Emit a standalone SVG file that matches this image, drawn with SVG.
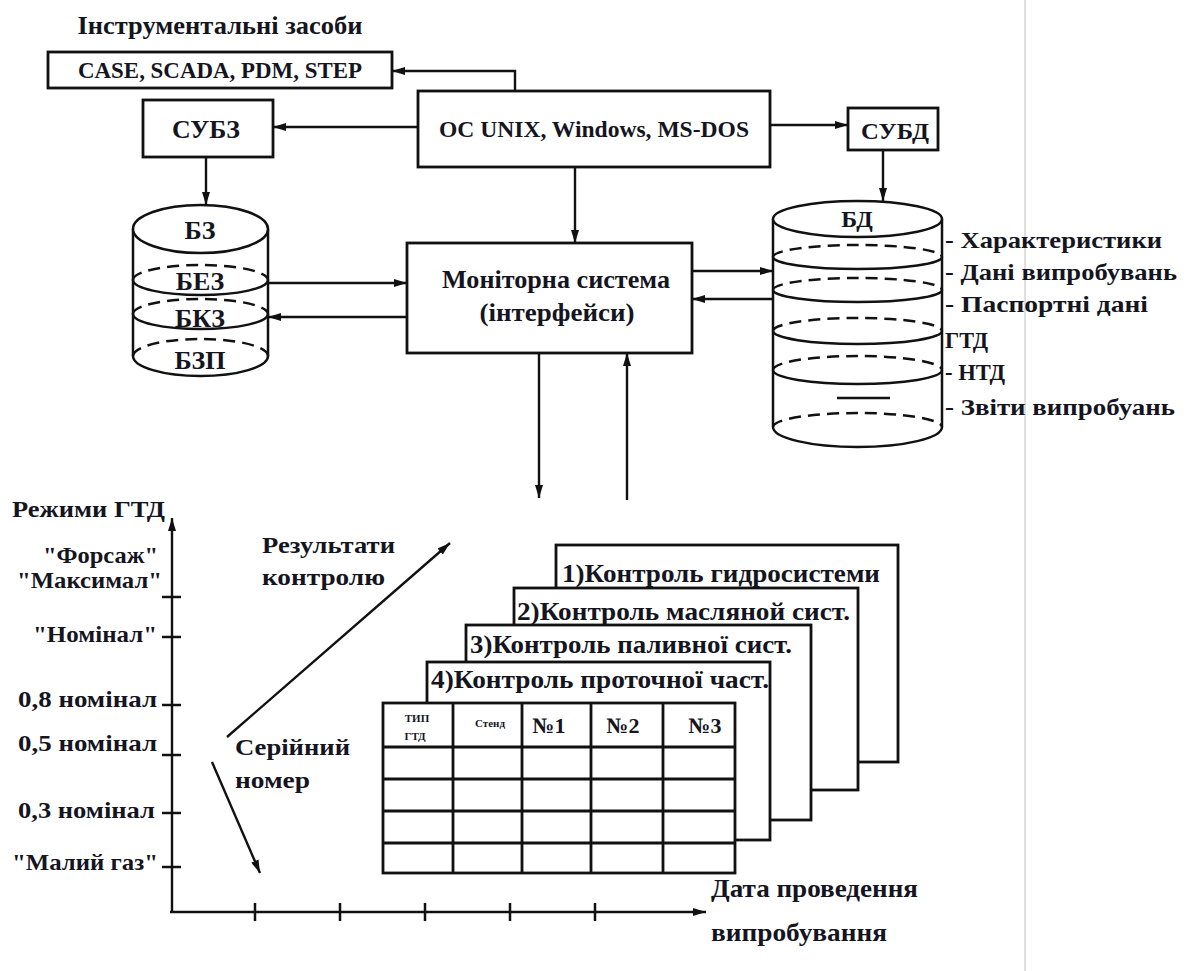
<svg xmlns="http://www.w3.org/2000/svg" width="1187" height="971" viewBox="0 0 1187 971">
<defs>
<marker id="ah" viewBox="0 0 13 8" refX="13" refY="4" markerWidth="13" markerHeight="8" markerUnits="userSpaceOnUse" orient="auto"><path d="M0,0 L13,4 L0,8 z" fill="#111"/></marker>
</defs>
<style>
.t{font-family:"Liberation Serif","Times New Roman","DejaVu Serif",serif;font-weight:bold;fill:#15151f}
.box{fill:#fff;stroke:#111;stroke-width:2.8}
.ln{fill:none;stroke:#111;stroke-width:2.5}
.cyl{fill:#fff;stroke:#111;stroke-width:2.5}
.dash{fill:none;stroke:#111;stroke-width:2.5;stroke-dasharray:12 7}
.arr{fill:none;stroke:#111;stroke-width:2.4;marker-end:url(#ah)}
.grid{fill:none;stroke:#111;stroke-width:2.8}
</style>
<rect width="1187" height="971" fill="#fff"/>
<line x1="1025" y1="0" x2="1025" y2="971" stroke="#d4d4d4" stroke-width="1.5"/>

<text class="t" x="220" y="34" font-size="26" text-anchor="middle" textLength="285" lengthAdjust="spacingAndGlyphs">Інструментальні засоби</text>

<g id="case">
<rect class="box" x="48" y="52" width="344" height="36"/>
<text class="t" x="220" y="78" font-size="23" text-anchor="middle" textLength="284" lengthAdjust="spacingAndGlyphs">CASE, SCADA, PDM, STEP</text>
</g>
<g id="os">
<rect class="box" x="418" y="91" width="352" height="76"/>
<text class="t" x="594" y="137" font-size="24" text-anchor="middle" textLength="310" lengthAdjust="spacingAndGlyphs">OC UNIX, Windows, MS-DOS</text>
</g>
<g id="subz">
<rect class="box" x="143" y="100" width="130" height="57"/>
<text class="t" x="206" y="138" font-size="26" text-anchor="middle" textLength="68" lengthAdjust="spacingAndGlyphs">СУБЗ</text>
</g>
<g id="subd">
<rect class="box" x="848" y="108" width="90" height="42"/>
<text class="t" x="895" y="139" font-size="24" text-anchor="middle" textLength="68" lengthAdjust="spacingAndGlyphs">СУБД</text>
</g>

<g id="kb">
<path class="cyl" d="M133,229 L133,356 A67.5,20 0 0 0 268,356 L268,229"/>
<ellipse class="cyl" cx="200.5" cy="229" rx="67.5" ry="24"/>
<path class="dash" d="M133,280 A67.5,15 0 0 1 268,280"/>
<path class="ln" d="M133,280 A67.5,15 0 0 0 268,280"/>
<path class="dash" d="M133,314 A67.5,15 0 0 1 268,314"/>
<path class="ln" d="M133,314 A67.5,15 0 0 0 268,314"/>
<path class="dash" d="M133,356 A67.5,17 0 0 1 268,356"/>
<text class="t" x="200" y="239" font-size="26" text-anchor="middle">БЗ</text>
<text class="t" x="200" y="290" font-size="26" text-anchor="middle">БЕЗ</text>
<text class="t" x="200" y="327" font-size="26" text-anchor="middle">БКЗ</text>
<text class="t" x="200" y="369" font-size="26" text-anchor="middle">БЗП</text>
</g>

<g id="monitor">
<rect class="box" x="407" y="243" width="285" height="110"/>
<text class="t" x="556" y="288" font-size="26" text-anchor="middle" textLength="228" lengthAdjust="spacingAndGlyphs">Моніторна система</text>
<text class="t" x="557" y="321" font-size="26" text-anchor="middle" textLength="155" lengthAdjust="spacingAndGlyphs">(інтерфейси)</text>
</g>

<g id="db">
<path class="cyl" d="M773,219 L773,427 A84.5,20 0 0 0 942,427 L942,219"/>
<ellipse class="cyl" cx="857.5" cy="219" rx="84.5" ry="18"/>
<path class="dash" d="M773,257 A84.5,12 0 0 1 942,257"/>
<path class="ln" d="M773,257 A84.5,12 0 0 0 942,257"/>
<path class="dash" d="M773,290 A84.5,12 0 0 1 942,290"/>
<path class="ln" d="M773,290 A84.5,12 0 0 0 942,290"/>
<path class="dash" d="M773,331 A84.5,13 0 0 1 942,331"/>
<path class="ln" d="M773,331 A84.5,13 0 0 0 942,331"/>
<path class="dash" d="M773,370 A84.5,14 0 0 1 942,370"/>
<path class="ln" d="M773,370 A84.5,14 0 0 0 942,370"/>
<path class="dash" d="M773,427 A84.5,14 0 0 1 942,427"/>
<line class="ln" x1="837" y1="398" x2="890" y2="398"/>
<text class="t" x="857" y="227" font-size="24" text-anchor="middle">БД</text>
</g>

<g id="db-labels">
<text class="t" x="945" y="248" font-size="23" textLength="217" lengthAdjust="spacingAndGlyphs">- Характеристики</text>
<text class="t" x="945" y="280" font-size="23" textLength="232" lengthAdjust="spacingAndGlyphs">- Дані випробувань</text>
<text class="t" x="945" y="312" font-size="23" textLength="203" lengthAdjust="spacingAndGlyphs">- Паспортні дані</text>
<text class="t" x="945" y="348" font-size="23" textLength="43" lengthAdjust="spacingAndGlyphs">ГТД</text>
<text class="t" x="945" y="380" font-size="23" textLength="60" lengthAdjust="spacingAndGlyphs">- НТД</text>
<text class="t" x="945" y="415" font-size="23" textLength="230" lengthAdjust="spacingAndGlyphs">- Звіти випробуань</text>
</g>

<g id="connectors">
<path class="arr" d="M515,91 L515,71 L392,71"/>
<path class="arr" d="M418,127 L273,127"/>
<path class="arr" d="M770,125 L848,125"/>
<path class="arr" d="M206,157 L206,205"/>
<path class="arr" d="M883,150 L883,201"/>
<path class="arr" d="M575,167 L575,243"/>
<path class="arr" d="M268,283 L407,283"/>
<path class="arr" d="M407,317 L268,317"/>
<path class="arr" d="M692,271 L773,271"/>
<path class="arr" d="M773,299 L692,299"/>
<path class="arr" d="M539,353 L539,498"/>
<path class="arr" d="M627,500 L627,353"/>
<path class="arr" d="M227,737 L450,543"/>
<path class="arr" d="M212,762 L260,873"/>
</g>

<g id="axes">
<path class="arr" d="M172,912 L172,518"/>
<path class="arr" d="M170,912 L706,912"/>
<path class="ln" d="M162,597 H181 M162,637 H181 M162,705 H181 M162,755 H181 M162,813 H181 M162,867 H181"/>
<path class="ln" d="M255,903 V921 M340,903 V921 M425,903 V921 M510,903 V921 M595,903 V921"/>
<text class="t" x="12" y="517" font-size="23" textLength="153" lengthAdjust="spacingAndGlyphs">Режими ГТД</text>
<g font-size="23" text-anchor="end">
<text class="t" x="158" y="563" textLength="115" lengthAdjust="spacingAndGlyphs">"Форсаж"</text>
<text class="t" x="162" y="588" textLength="145" lengthAdjust="spacingAndGlyphs">"Максимал"</text>
<text class="t" x="157" y="642" textLength="124" lengthAdjust="spacingAndGlyphs">"Номінал"</text>
<text class="t" x="157" y="707" textLength="139" lengthAdjust="spacingAndGlyphs">0,8 номінал</text>
<text class="t" x="157" y="751" textLength="139" lengthAdjust="spacingAndGlyphs">0,5 номінал</text>
<text class="t" x="155" y="818" textLength="137" lengthAdjust="spacingAndGlyphs">0,3 номінал</text>
<text class="t" x="158" y="870" textLength="146" lengthAdjust="spacingAndGlyphs">"Малий газ"</text>
</g>
<text class="t" x="711" y="897" font-size="26" textLength="207" lengthAdjust="spacingAndGlyphs">Дата проведення</text>
<text class="t" x="711" y="941" font-size="26" textLength="176" lengthAdjust="spacingAndGlyphs">випробування</text>
<text class="t" x="262" y="553" font-size="24" textLength="133" lengthAdjust="spacingAndGlyphs">Результати</text>
<text class="t" x="262" y="585" font-size="24" textLength="123" lengthAdjust="spacingAndGlyphs">контролю</text>
<text class="t" x="235" y="755" font-size="24" textLength="115" lengthAdjust="spacingAndGlyphs">Серійний</text>
<text class="t" x="235" y="788" font-size="24" textLength="75" lengthAdjust="spacingAndGlyphs">номер</text>
</g>

<g id="sheet1">
<rect class="box" x="556" y="545" width="342" height="217"/>
<text class="t" x="562" y="582" font-size="25" textLength="318" lengthAdjust="spacingAndGlyphs">1)Контроль гидросистеми</text>
</g>
<g id="sheet2">
<rect class="box" x="514" y="588" width="344" height="202"/>
<text class="t" x="517" y="620" font-size="25" textLength="333" lengthAdjust="spacingAndGlyphs">2)Контроль масляной сист.</text>
</g>
<g id="sheet3">
<rect class="box" x="466" y="625" width="345" height="195"/>
<text class="t" x="470" y="653" font-size="25" textLength="322" lengthAdjust="spacingAndGlyphs">3)Контроль паливної сист.</text>
</g>
<g id="sheet4">
<rect class="box" x="427" y="662" width="343" height="178"/>
<text class="t" x="431" y="688" font-size="25" textLength="338" lengthAdjust="spacingAndGlyphs">4)Контроль проточної част.</text>
</g>
<g id="table">
<rect class="box" x="383" y="703" width="352" height="170"/>
<path class="grid" d="M453,703 V873 M522,703 V873 M591,703 V873 M663,703 V873 M383,747 H735 M383,779 H735 M383,811 H735 M383,843 H735"/>
<text class="t" x="417" y="722" font-size="11" text-anchor="middle">ТИП</text>
<text class="t" x="415" y="740" font-size="11" text-anchor="middle">ГТД</text>
<text class="t" x="490" y="727" font-size="11" text-anchor="middle">Стенд</text>
<text class="t" x="549" y="733" font-size="22" text-anchor="middle">№1</text>
<text class="t" x="623" y="733" font-size="22" text-anchor="middle">№2</text>
<text class="t" x="705" y="733" font-size="22" text-anchor="middle">№3</text>
</g>
</svg>
